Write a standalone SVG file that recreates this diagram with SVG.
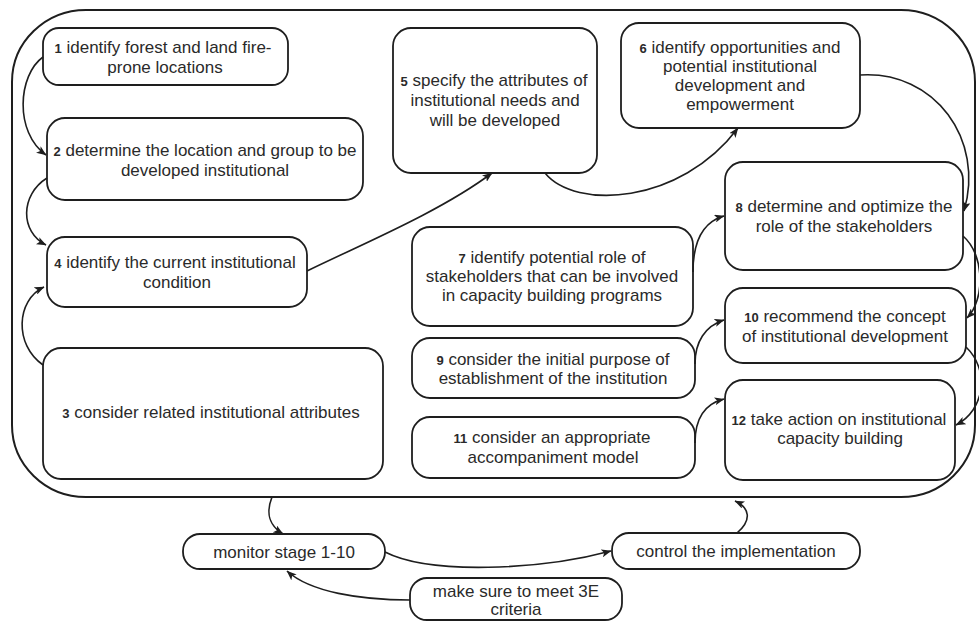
<svg xmlns="http://www.w3.org/2000/svg" width="979" height="621" viewBox="0 0 979 621">
  <defs>
    <marker id="arrow" viewBox="0 0 10 8" refX="9.5" refY="4" markerWidth="10" markerHeight="8" markerUnits="userSpaceOnUse" orient="auto">
      <path d="M0,0 L10,4 L0,8 L2.5,4 z" fill="#1e1e1e"/>
    </marker>
    <style>
      .box{fill:#fff;stroke:#1e1e1e;stroke-width:1.8}
      .frame{fill:none;stroke:#1e1e1e;stroke-width:2}
      text{font-family:"Liberation Sans",Arial,sans-serif;font-size:17px;fill:#2a2a2a;text-anchor:middle}
      .n{font-size:13px;font-weight:bold}
      .edge{fill:none;stroke:#1e1e1e;stroke-width:1.6;marker-end:url(#arrow)}
    </style>
  </defs>
  <rect width="979" height="621" fill="#fff"/>

  <!-- container around steps 1-12 -->
  <g id="frame">
    <rect class="frame" x="12" y="10" width="963" height="487" rx="74" ry="72"/>
  </g>

  <g id="node1">
    <rect class="box" x="43" y="28" width="245" height="57" rx="16"/>
    <text x="163" y="53"><tspan class="n">1</tspan> identify forest and land fire-</text>
    <text x="165" y="73">prone locations</text>
  </g>
  <g id="node2">
    <rect class="box" x="47" y="118" width="316" height="82" rx="18"/>
    <text x="205" y="156"><tspan class="n">2</tspan> determine the location and group to be</text>
    <text x="205" y="176">developed institutional</text>
  </g>
  <g id="node4">
    <rect class="box" x="47" y="237" width="260" height="70" rx="18"/>
    <text x="175" y="268"><tspan class="n">4</tspan> identify the current institutional</text>
    <text x="177" y="288">condition</text>
  </g>
  <g id="node3">
    <rect class="box" x="43" y="348" width="340" height="131" rx="18"/>
    <text x="211" y="418"><tspan class="n">3</tspan> consider related institutional attributes</text>
  </g>
  <g id="node5">
    <rect class="box" x="393" y="28" width="204" height="145" rx="18"/>
    <text x="494" y="86"><tspan class="n">5</tspan> specify the attributes of</text>
    <text x="495" y="106">institutional needs and</text>
    <text x="495" y="126">will be developed</text>
  </g>
  <g id="node6">
    <rect class="box" x="621" y="23" width="239" height="105" rx="18"/>
    <text x="740" y="53"><tspan class="n">6</tspan> identify opportunities and</text>
    <text x="740" y="72">potential institutional</text>
    <text x="740" y="91">development and</text>
    <text x="740" y="110">empowerment</text>
  </g>
  <g id="node7">
    <rect class="box" x="412" y="227" width="281" height="99" rx="18"/>
    <text x="552" y="263"><tspan class="n">7</tspan> identify potential role of</text>
    <text x="552" y="282">stakeholders that can be involved</text>
    <text x="552" y="301">in capacity building programs</text>
  </g>
  <g id="node8">
    <rect class="box" x="725" y="162" width="238" height="108" rx="18"/>
    <text x="844" y="212"><tspan class="n">8</tspan> determine and optimize the</text>
    <text x="844" y="232">role of the stakeholders</text>
  </g>
  <g id="node9">
    <rect class="box" x="412" y="338" width="283" height="60" rx="18"/>
    <text x="553" y="365"><tspan class="n">9</tspan> consider the initial purpose of</text>
    <text x="553" y="384">establishment of the institution</text>
  </g>
  <g id="node10">
    <rect class="box" x="725" y="288" width="241" height="75" rx="18"/>
    <text x="845" y="322"><tspan class="n">10</tspan> recommend the concept</text>
    <text x="845" y="342">of institutional development</text>
  </g>
  <g id="node11">
    <rect class="box" x="412" y="417" width="283" height="61" rx="18"/>
    <text x="552" y="443"><tspan class="n">11</tspan> consider an appropriate</text>
    <text x="553" y="463">accompaniment model</text>
  </g>
  <g id="node12">
    <rect class="box" x="725" y="380" width="230" height="100" rx="18"/>
    <text x="839" y="425"><tspan class="n">12</tspan> take action on institutional</text>
    <text x="840" y="444">capacity building</text>
  </g>

  <g id="monitor">
    <rect class="box" x="183" y="534" width="202" height="35" rx="17"/>
    <text x="284" y="558">monitor stage 1-10</text>
  </g>
  <g id="control">
    <rect class="box" x="612" y="533" width="248" height="36" rx="17"/>
    <text x="736" y="557">control the implementation</text>
  </g>
  <g id="criteria">
    <rect class="box" x="410" y="578" width="212" height="42" rx="17"/>
    <text x="516" y="597">make sure to meet 3E</text>
    <text x="516" y="615">criteria</text>
  </g>

  <g id="connectors">
    <path class="edge" d="M43,57 C18,75 14,132 46,155"/>
    <path class="edge" d="M47,178 C20,195 20,232 46,245"/>
    <path class="edge" d="M43,365 C14,345 16,300 44,287"/>
    <path class="edge" d="M307,271 C360,245 440,212 492,173"/>
    <path class="edge" d="M545,173 C575,210 680,205 738,128"/>
    <path class="edge" d="M860,75 C935,70 985,140 964,211"/>
    <path class="edge" d="M693,272 C693,240 703,222 724,216"/>
    <path class="edge" d="M963,236 C985,255 985,300 967,318"/>
    <path class="edge" d="M695,364 C695,342 705,326 724,320"/>
    <path class="edge" d="M966,347 C990,370 985,410 956,425"/>
    <path class="edge" d="M695,443 C695,420 704,404 724,399"/>
    <path class="edge" d="M272,497 C265,515 270,526 283,534"/>
    <path class="edge" d="M385,552 C430,575 540,570 611,551"/>
    <path class="edge" d="M737,533 C752,520 750,508 735,501"/>
    <path class="edge" d="M410,600 C360,600 310,592 287,571"/>
  </g>
</svg>
